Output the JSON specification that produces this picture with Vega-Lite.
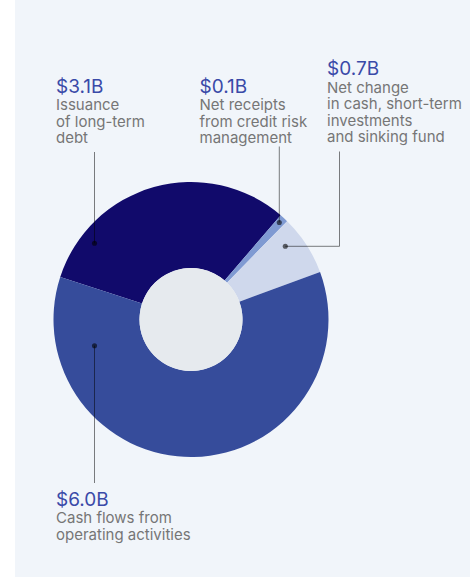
{
  "$schema": "https://vega.github.io/schema/vega-lite/v6.json",
  "width": 455,
  "height": 577,
  "autosize": {"type": "none"},
  "padding": {"left": 15, "right": 0, "top": 0, "bottom": 0},
  "background": "#ffffff",
  "view": {"fill": "#f1f5fa", "stroke": null},
  "config": {"font": "Inter"},
  "datasets": {
    "slices": [
      {"order": 1, "category": "Issuance of long-term debt", "value": 3.1},
      {"order": 2, "category": "Net receipts from credit risk management", "value": 0.1},
      {"order": 3, "category": "Net change in cash, short-term investments and sinking fund", "value": 0.7},
      {"order": 4, "category": "Cash flows from operating activities", "value": 6.0}
    ],
    "labels": [
      {"amount": "$3.1B", "desc": "Issuance\nof long-term\ndebt", "tx": 56, "ty": 92.5, "dy": 110, "px": 94.5, "py": 243.3},
      {"amount": "$0.1B", "desc": "Net receipts\nfrom credit risk\nmanagement", "tx": 199.5, "ty": 92.5, "dy": 110, "px": 279.3, "py": 222.5},
      {"amount": "$0.7B", "desc": "Net change\nin cash, short-term\ninvestments\nand sinking fund", "tx": 327, "ty": 75.2, "dy": 92.7, "px": 285.3, "py": 246.3},
      {"amount": "$6.0B", "desc": "Cash flows from\noperating activities", "tx": 56, "ty": 506.2, "dy": 523.3, "px": 94.5, "py": 345.7}
    ],
    "leaders": [
      {"x1": 94.5, "y1": 152, "x2": 94.5, "y2": 243.3},
      {"x1": 279.3, "y1": 146.5, "x2": 279.3, "y2": 222.5},
      {"x1": 285.3, "y1": 246.3, "x2": 339.5, "y2": 246.3},
      {"x1": 339.5, "y1": 246.3, "x2": 339.5, "y2": 151.5},
      {"x1": 94.5, "y1": 345.7, "x2": 94.5, "y2": 483}
    ]
  },
  "layer": [
    {
      "data": {"name": "slices"},
      "transform": [
        {"stack": "value", "groupby": [], "as": ["t0", "t1"], "sort": [{"field": "order", "order": "ascending"}]}
      ],
      "mark": {"type": "arc", "innerRadius": 51.5, "outerRadius": 137.5},
      "encoding": {
        "x": {"datum": 191, "type": "quantitative", "scale": {"domain": [15, 470], "nice": false, "zero": false}, "axis": null},
        "y": {"datum": 319.5, "type": "quantitative", "scale": {"domain": [0, 577], "nice": false, "zero": false, "reverse": true}, "axis": null},
        "theta": {"field": "t0", "type": "quantitative", "stack": null, "scale": {"domain": [0, 9.9], "range": [-1.2566, 5.0265], "nice": false, "zero": false}},
        "theta2": {"field": "t1"},
        "color": {
          "field": "category",
          "type": "nominal",
          "legend": null,
          "scale": {
            "domain": ["Issuance of long-term debt", "Net receipts from credit risk management", "Net change in cash, short-term investments and sinking fund", "Cash flows from operating activities"],
            "range": ["#110a6b", "#7f9ad2", "#cfd8ec", "#364c9b"]
          }
        }
      }
    },
    {
      "data": {"values": [{"hole": "center"}]},
      "mark": {"type": "point", "shape": "circle", "filled": true, "size": 10609, "color": "#e6eaee", "opacity": 1, "strokeWidth": 0},
      "encoding": {
        "x": {"datum": 191, "type": "quantitative"},
        "y": {"datum": 319.5, "type": "quantitative"}
      }
    },
    {
      "data": {"name": "leaders"},
      "mark": {"type": "rule", "color": "#000000", "opacity": 0.5, "strokeWidth": 1},
      "encoding": {
        "x": {"field": "x1", "type": "quantitative"},
        "y": {"field": "y1", "type": "quantitative"},
        "x2": {"field": "x2"},
        "y2": {"field": "y2"}
      }
    },
    {
      "data": {"name": "labels"},
      "mark": {"type": "point", "shape": "circle", "filled": true, "size": 26, "color": "#000000", "opacity": 0.58},
      "encoding": {
        "x": {"field": "px", "type": "quantitative"},
        "y": {"field": "py", "type": "quantitative"}
      }
    },
    {
      "data": {"name": "labels"},
      "mark": {"type": "text", "align": "left", "baseline": "alphabetic", "fontSize": 19, "color": "#3a4aa8", "font": "Inter"},
      "encoding": {
        "x": {"field": "tx", "type": "quantitative"},
        "y": {"field": "ty", "type": "quantitative"},
        "text": {"field": "amount"}
      }
    },
    {
      "data": {"name": "labels"},
      "mark": {"type": "text", "align": "left", "baseline": "alphabetic", "fontSize": 15, "color": "#767676", "font": "Inter", "lineBreak": "\n", "lineHeight": 16.5},
      "encoding": {
        "x": {"field": "tx", "type": "quantitative"},
        "y": {"field": "dy", "type": "quantitative"},
        "text": {"field": "desc"}
      }
    }
  ]
}
